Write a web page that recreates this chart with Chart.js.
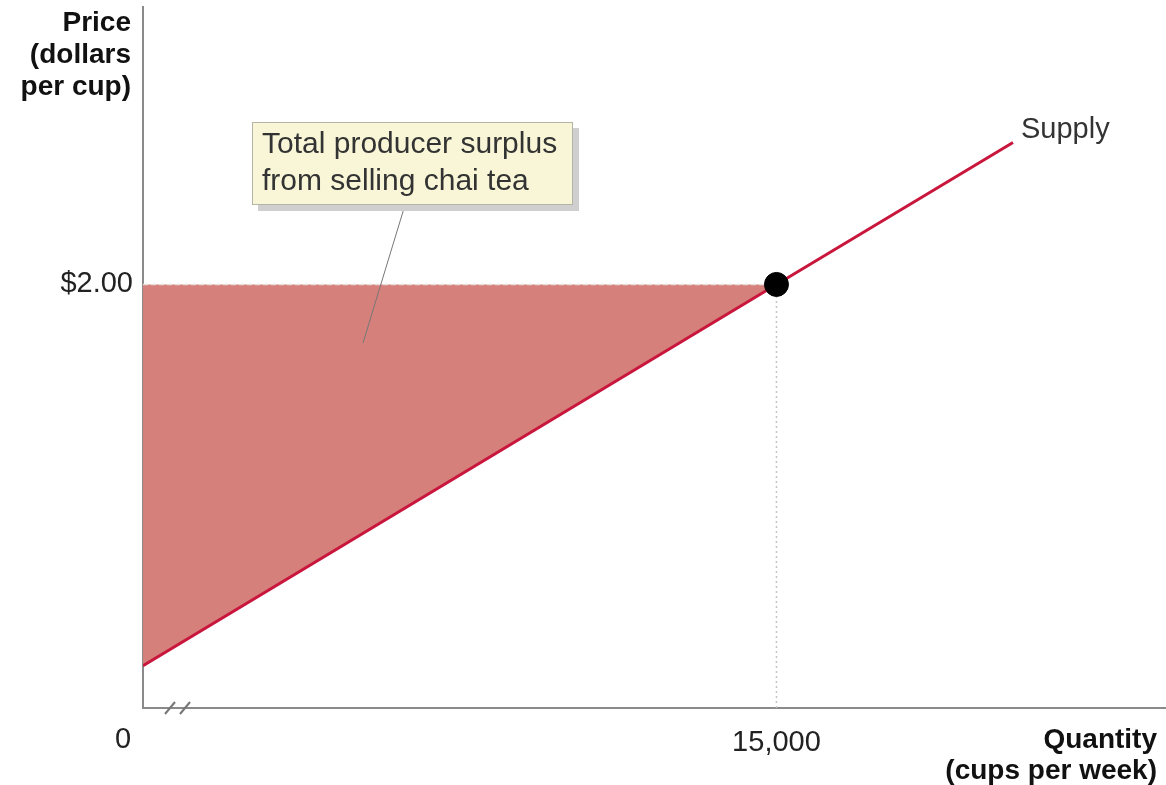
<!DOCTYPE html>
<html>
<head>
<meta charset="utf-8">
<script src="https://cdn.jsdelivr.net/npm/chart.js@4"></script>
<style>
  html, body { margin: 0; padding: 0; background: #fff; }
  #wrap { width: 1166px; height: 785px; }
</style>
</head>
<body>
<div id="wrap"><canvas id="chart" width="1166" height="785"></canvas></div>
<script>
// ── Data (quantity in cups/week, price in dollars/cup) ──────────────────────
const supplyQty    = [0, 15000, 20600];
const supplyPrice  = [0.20, 2.00, 2.67];
const surplusQty   = [0, 15000];
const surplusPrice = [0.20, 2.00];
const eqQty        = [15000];
const eqPrice      = [2.00];
const xTicks       = [15000];
const yTicks       = [2.00];
const xTickLabels  = ['15,000'];
const yTickLabels  = ['$2.00'];

const FONT = '"Liberation Sans", Arial, Helvetica, sans-serif';
const pts = (xs, ys) => xs.map((x, i) => ({ x, y: ys[i] }));

// ── Decorations: axis titles, "0", supply label, callout box, axis break ──
const decor = {
  id: 'decor',
  afterDraw(chart) {
    const { ctx, chartArea: a, scales: { x, y } } = chart;
    ctx.save();
    ctx.fillStyle = '#111';
    ctx.textBaseline = 'middle';

    // y title
    ctx.font = 'bold 28px ' + FONT;
    ctx.textAlign = 'right';
    ['Price', '(dollars', 'per cup)'].forEach((t, i) => ctx.fillText(t, 131, 23 + i * 32));
    // x title
    ['Quantity', '(cups per week)'].forEach((t, i) => ctx.fillText(t, 1157, 740 + i * 31));

    // origin label
    ctx.font = '29px ' + FONT;
    ctx.fillStyle = '#222';
    ctx.textAlign = 'center';
    ctx.fillText('0', a.left - 20, 740);

    // supply label next to line end
    const n = supplyQty.length - 1;
    ctx.textAlign = 'left';
    ctx.fillStyle = '#333';
    ctx.fillText('Supply', x.getPixelForValue(supplyQty[n]) + 8, y.getPixelForValue(supplyPrice[n]) - 13);

    // axis break marks
    ctx.strokeStyle = '#777';
    ctx.lineWidth = 2;
    [165, 180].forEach(bx => {
      ctx.beginPath();
      ctx.moveTo(bx, a.bottom + 6);
      ctx.lineTo(bx + 10, a.bottom - 6);
      ctx.stroke();
    });

    // leader line
    ctx.strokeStyle = '#777';
    ctx.lineWidth = 1;
    ctx.beginPath();
    ctx.moveTo(405, 205);
    ctx.lineTo(363, 343);
    ctx.stroke();

    // callout box with shadow
    ctx.fillStyle = '#cfcfcf';
    ctx.fillRect(258, 128, 321, 83);
    ctx.fillStyle = '#f8f6d6';
    ctx.fillRect(252, 122, 321, 83);
    ctx.strokeStyle = '#b5b5a5';
    ctx.lineWidth = 1;
    ctx.strokeRect(252.5, 122.5, 320, 82);
    ctx.fillStyle = '#333';
    ctx.font = '30px ' + FONT;
    ctx.fillText('Total producer surplus', 262, 145);
    ctx.fillText('from selling chai tea', 262, 182);

    ctx.restore();
  }
};

new Chart(document.getElementById('chart'), {
  type: 'scatter',
  data: {
    datasets: [
      {
        label: 'Equilibrium',
        data: pts(eqQty, eqPrice),
        pointRadius: 12,
        pointBackgroundColor: '#000',
        pointBorderColor: '#000',
        showLine: false
      },
      {
        label: 'Supply',
        data: pts(supplyQty, supplyPrice),
        showLine: true,
        borderColor: '#c8163c',
        borderWidth: 3,
        pointRadius: 0,
        fill: false
      },
      {
        label: 'Price guide',
        data: [{ x: 0, y: eqPrice[0] }, { x: eqQty[0], y: eqPrice[0] }],
        showLine: true,
        borderColor: '#e6e0df',
        borderWidth: 1.5,
        borderDash: [5, 3],
        pointRadius: 0
      },
      {
        label: 'Quantity guide',
        data: [{ x: eqQty[0], y: 0 }, { x: eqQty[0], y: eqPrice[0] }],
        showLine: true,
        borderColor: '#c4c4c4',
        borderWidth: 1.5,
        borderDash: [2, 3],
        pointRadius: 0
      },
      {
        label: 'Producer surplus',
        data: pts(surplusQty, surplusPrice),
        showLine: true,
        borderWidth: 0,
        borderColor: 'rgba(0,0,0,0)',
        backgroundColor: '#d5807a',
        pointRadius: 0,
        fill: { value: eqPrice[0] }
      }
    ]
  },
  options: {
    responsive: false,
    animation: false,
    events: [],
    layout: { autoPadding: false, padding: { top: 7, right: 1, left: 0, bottom: 0 } },
    plugins: { legend: { display: false }, tooltip: { enabled: false } },
    scales: {
      x: {
        type: 'linear',
        min: 0,
        max: 24200,
        afterFit: s => { s.height = 77; s.paddingLeft = 0; s.paddingRight = 0; },
        afterBuildTicks: s => { s.ticks = xTicks.map(v => ({ value: v })); },
        grid: { display: false, drawTicks: false },
        border: { display: true, color: '#8a8a8a', width: 2 },
        ticks: {
          autoSkip: false,
          maxRotation: 0,
          padding: 18,
          color: '#222',
          font: { family: FONT, size: 29 },
          callback: v => xTickLabels[xTicks.indexOf(v)]
        }
      },
      y: {
        type: 'linear',
        min: 0,
        max: 3.31,
        afterFit: s => { s.width = 143; s.paddingTop = 0; s.paddingBottom = 0; },
        afterBuildTicks: s => { s.ticks = yTicks.map(v => ({ value: v })); },
        grid: { display: false, drawTicks: false },
        border: { display: true, color: '#8a8a8a', width: 2 },
        ticks: {
          padding: 10,
          color: '#222',
          font: { family: FONT, size: 29 },
          callback: v => yTickLabels[yTicks.indexOf(v)]
        }
      }
    }
  },
  plugins: [decor]
});
</script>
</body>
</html>
